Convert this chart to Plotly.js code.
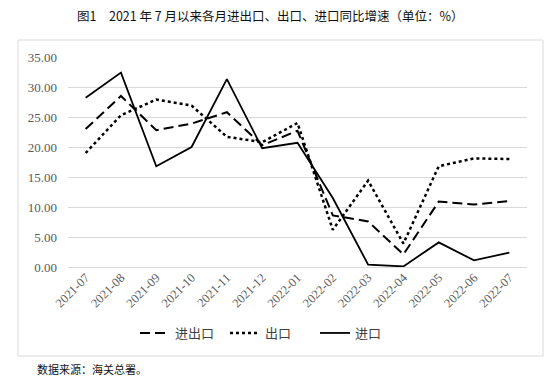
<!DOCTYPE html>
<html>
<head>
<meta charset="utf-8">
<script src="https://cdn.plot.ly/plotly-3.0.1.min.js"></script>
<style>
html,body{margin:0;padding:0;background:#fff;}
#chart{width:559px;height:384px;}
</style>
</head>
<body>
<div id="chart"></div>
<script>
const months = ["2021-07","2021-08","2021-09","2021-10","2021-11","2021-12","2022-01","2022-02","2022-03","2022-04","2022-05","2022-06","2022-07"];
const totalTrade = [23.0, 28.5, 22.8, 23.9, 25.8, 20.3, 22.7, 8.6, 7.6, 2.1, 10.9, 10.4, 11.0];
const exportsG   = [19.0, 25.3, 27.9, 26.9, 21.7, 20.8, 24.0, 6.2, 14.4, 3.9, 16.8, 18.1, 18.0];
const importsG   = [28.2, 32.4, 16.8, 20.0, 31.3, 19.8, 20.7, 11.5, 0.4, 0.1, 4.1, 1.1, 2.4];
const seriesNames = ["进出口", "出口", "进口"];
const titleText = "图1　2021 年 7 月以来各月进出口、出口、进口同比增速（单位：%）";
const sourceText = "数据来源：海关总署。";

const cjk = 'Noto Sans CJK SC, sans-serif';
const serif = 'Liberation Serif, Times New Roman, serif';

const traces = [
  {x: months, y: totalTrade, name: seriesNames[0], type: 'scatter', mode: 'lines',
   line: {color: '#000', width: 2, dash: '10px,5px'}},
  {x: months, y: exportsG, name: seriesNames[1], type: 'scatter', mode: 'lines',
   line: {color: '#000', width: 2.5, dash: 'dot'}},
  {x: months, y: importsG, name: seriesNames[2], type: 'scatter', mode: 'lines',
   line: {color: '#000', width: 1.8}}
];

const W = 559, H = 384, L = 68, R = 32, T = 57, B = 117;
const pw = W - L - R, ph = H - T - B;
const px = X => (X - L) / pw;
const py = Y => (H - B - Y) / ph;

const layout = {
  width: W, height: H,
  margin: {l: L, r: R, t: T, b: B, pad: 0},
  paper_bgcolor: '#fff', plot_bgcolor: '#fff',
  showlegend: true,
  legend: {orientation: 'h', x: px(270), xanchor: 'center', y: py(333), yanchor: 'middle',
           entrywidth: 45, entrywidthmode: 'pixels',
           font: {family: cjk, size: 13, color: '#404040'}, itemwidth: 30, traceorder: 'normal'},
  xaxis: {type: 'category', range: [-0.5, 12.5], showgrid: false, showline: false, zeroline: false,
          tickangle: -45, ticks: '', tickfont: {family: serif, size: 12.5, color: '#595959'}},
  yaxis: {range: [0, 35], dtick: 5, tick0: 0, tickformat: '.2f', showgrid: true, gridcolor: '#d9d9d9',
          gridwidth: 1, zeroline: true, zerolinecolor: '#d9d9d9', zerolinewidth: 1, showline: false,
          ticks: '', ticklabelstandoff: 10, tickfont: {family: serif, size: 13, color: '#595959'}},
  shapes: [
    {type: 'rect', xref: 'paper', yref: 'paper', x0: px(18), x1: px(543), y0: py(356), y1: py(40),
     line: {color: '#d9d9d9', width: 1}, fillcolor: 'rgba(0,0,0,0)', layer: 'below'}
  ],
  annotations: [
    {text: titleText, xref: 'paper', yref: 'paper', x: px(270), y: py(15), xanchor: 'center', yanchor: 'middle',
     showarrow: false, font: {family: cjk, size: 12.5, color: '#111'}},
    {text: sourceText, xref: 'paper', yref: 'paper', x: px(35), y: py(369), xanchor: 'left', yanchor: 'middle',
     showarrow: false, font: {family: cjk, size: 11, color: '#111'}}
  ]
};

Plotly.newPlot('chart', traces, layout, {displayModeBar: false, staticPlot: true});
</script>
</body>
</html>
